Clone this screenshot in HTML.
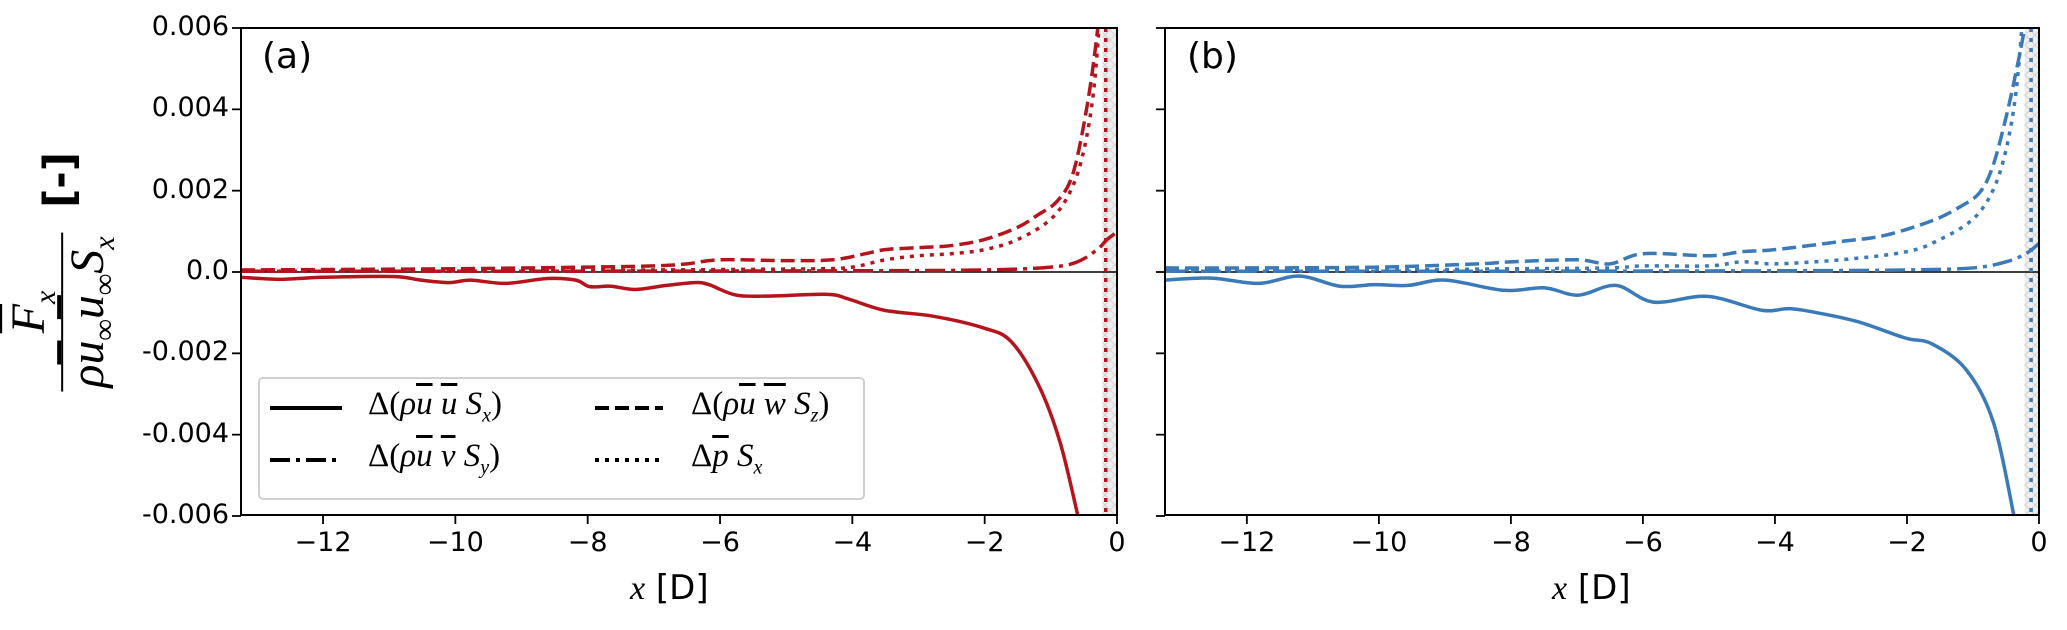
<!DOCTYPE html>
<html><head><meta charset="utf-8">
<style>
html,body{margin:0;padding:0;background:#fff;}
#wrap{position:relative;width:2067px;height:630px;overflow:hidden;font-family:"DejaVu Sans","Liberation Sans",sans-serif;}
.t{position:absolute;white-space:nowrap;color:#000;}
.ytick{font-size:27px;text-align:right;width:140px;}
.xtick{font-size:27px;text-align:center;width:80px;}
.m{font-family:"Liberation Serif",serif;font-style:italic;}
.ov{text-decoration:overline;}
.lg{font-size:33px;font-family:"Liberation Serif",serif;}
</style></head>
<body>
<div id="wrap">
<svg id="svg" width="2067" height="630" style="position:absolute;left:0;top:0">
<defs>
<pattern id="hatch" width="10" height="10" patternUnits="userSpaceOnUse">
<rect width="10" height="10" fill="#efefef"/>
<path d="M0,0L10,10M10,0L0,10" stroke="#d4d4d4" stroke-width="1"/>
</pattern>
<clipPath id="clipA"><rect x="241" y="28" width="876" height="487"/></clipPath>
<clipPath id="clipB"><rect x="1165" y="28" width="874" height="487"/></clipPath>
</defs>
</svg>
<div class="t" style="left:262px;top:36px;font-size:36px">(a)</div>
<div class="t" style="left:1187px;top:36px;font-size:36px">(b)</div>
<div class="t" style="left:630px;top:568px;font-size:34px"><span class="m">x</span> [D]</div>
<div class="t" style="left:1552px;top:568px;font-size:34px"><span class="m">x</span> [D]</div>
<div class="t" style="left:60px;top:312px;transform:translate(-50%,-50%) rotate(-90deg);font-size:48px;">
  <span style="display:inline-flex;flex-direction:column;align-items:center;font-family:'Liberation Serif',serif;font-style:italic;">
    <span style="padding:0 6px 0;line-height:1"><span class="ov">F</span><sub style="font-size:30px">x</sub></span>
    <span style="border-top:2px solid #000;padding:0 4px 0;line-height:1.05">ρ<span class="ov">u</span><sub style="font-size:30px">∞</sub><span class="ov">u</span><sub style="font-size:30px">∞</sub>S<sub style="font-size:30px">x</sub></span>
  </span>
</div>
<div class="t" style="left:59px;top:180px;transform:translate(-50%,-50%) rotate(-90deg);font-size:42px;font-weight:bold">[-]</div>
<div id="legend" style="position:absolute;left:258px;top:377px;width:603px;height:119px;border:2px solid #d0d0d0;border-radius:5px;background:rgba(255,255,255,0.85);"></div>
<div class="t lg" style="left:368px;top:386px">Δ(<i>ρ<span class="ov">u</span> <span class="ov">u</span> S<sub style="font-size:20px">x</sub></i>)</div>
<div class="t lg" style="left:368px;top:438px">Δ(<i>ρ<span class="ov">u</span> <span class="ov">v</span> S<sub style="font-size:20px">y</sub></i>)</div>
<div class="t lg" style="left:691px;top:386px">Δ(<i>ρ<span class="ov">u</span> <span class="ov">w</span> S<sub style="font-size:20px">z</sub></i>)</div>
<div class="t lg" style="left:691px;top:438px">Δ<i><span class="ov">p</span> S<sub style="font-size:20px">x</sub></i></div>
</div>
<script>
// data (x in D, y in 1e-3)
const xTicks=[-12,-10,-8,-6,-4,-2,0];
const xTickLabels=["−12","−10","−8","−6","−4","−2","0"];
const yTicks=[0.006,0.004,0.002,0,-0.002,-0.004,-0.006];
const yTickLabels=["0.006","0.004","0.002","0.0","-0.002","-0.004","-0.006"];
const aSolidX=[-13.24,-12.64,-12,-10.94,-10.52,-10.09,-9.77,-9.24,-8.61,-8.18,-7.97,-7.65,-7.28,-6.81,-6.38,-6.17,-5.75,-5.21,-4.37,-4.05,-3.52,-2.77,-2.03,-1.6,-1.18,-0.86,-0.59,-0.5];
const aSolidY=[-0.13,-0.18,-0.13,-0.11,-0.2,-0.26,-0.2,-0.28,-0.16,-0.2,-0.36,-0.35,-0.43,-0.33,-0.26,-0.31,-0.57,-0.59,-0.55,-0.67,-0.94,-1.09,-1.37,-1.71,-2.8,-4.19,-6.0,-6.6];
const aDashX=[-13.24,-12,-10,-8,-7,-6.5,-6,-5,-4.3,-3.8,-3.5,-3,-2.5,-2,-1.5,-1.2,-0.9,-0.66,-0.44,-0.29,-0.2];
const aDashY=[0.05,0.06,0.08,0.12,0.15,0.2,0.3,0.28,0.3,0.45,0.55,0.6,0.65,0.8,1.1,1.4,1.75,2.45,4.2,6.0,7.5];
const aDotX=[-13.24,-10,-8,-6,-4.5,-4,-3.5,-3,-2.5,-2,-1.5,-1,-0.7,-0.5,-0.35,-0.25];
const aDotY=[0.02,0.03,0.04,0.06,0.08,0.12,0.3,0.4,0.45,0.55,0.8,1.3,2.0,3.0,4.5,6.5];
const aDashDotX=[-13.24,-8,-4,-2,-1,-0.6,-0.3,-0.15,0];
const aDashDotY=[0.02,0.02,0.03,0.05,0.12,0.25,0.55,0.8,0.98];
const aPVertX=-0.17;
const bSolidX=[-13.24,-12.54,-11.82,-11.2,-10.59,-10.07,-9.56,-8.99,-8.11,-7.49,-6.98,-6.41,-5.84,-5.02,-4.2,-3.78,-3.37,-2.75,-2.03,-1.62,-1.1,-0.69,-0.38,-0.3];
const bSolidY=[-0.2,-0.15,-0.28,-0.1,-0.35,-0.31,-0.33,-0.2,-0.45,-0.39,-0.57,-0.33,-0.74,-0.6,-0.94,-0.9,-1.0,-1.22,-1.62,-1.77,-2.41,-3.7,-6.0,-6.8];
const bDashX=[-13.24,-12,-10,-8.5,-8,-7,-6.5,-6,-5,-4.5,-4,-3,-2.34,-1.62,-1.2,-0.9,-0.7,-0.5,-0.35,-0.22,-0.15];
const bDashY=[0.1,0.1,0.12,0.2,0.25,0.3,0.2,0.45,0.4,0.5,0.55,0.75,0.9,1.26,1.6,1.95,2.6,3.8,4.9,6.0,7.0];
const bDotX=[-13.24,-10,-8,-6.5,-6,-5,-4.5,-4,-3,-2,-1.5,-1,-0.7,-0.5,-0.35,-0.25];
const bDotY=[0.05,0.05,0.08,0.1,0.15,0.15,0.25,0.2,0.3,0.5,0.8,1.3,2.0,3.0,4.4,6.2];
const bDashDotX=[-13.24,-8,-4,-2,-1,-0.5,-0.2,0];
const bDashDotY=[0.02,0.02,0.03,0.05,0.1,0.25,0.45,0.7];
const bPVertX=-0.12;

const NS="http://www.w3.org/2000/svg";
const svg=document.getElementById('svg');
const X0=-13.24,X1=0,TOP=28,BOT=515;
function mk(tag,attrs,parent){const e=document.createElementNS(NS,tag);for(const k in attrs)e.setAttribute(k,attrs[k]);(parent||svg).appendChild(e);return e;}
function smooth(pts){let d="M"+pts[0][0]+","+pts[0][1];for(let i=0;i<pts.length-1;i++){const p0=pts[Math.max(0,i-1)],p1=pts[i],p2=pts[i+1],p3=pts[Math.min(pts.length-1,i+2)];
const c1=[p1[0]+(p2[0]-p0[0])/6,p1[1]+(p2[1]-p0[1])/6],c2=[p2[0]-(p3[0]-p1[0])/6,p2[1]-(p3[1]-p1[1])/6];d+="C"+c1+" "+c2+" "+p2;}return d;}
const STY={solid:"",dash:"14,6",dot:"4,6",dashdot:"20,6,4,6"};
function panel(L,R,id,color,series,vx){
  const sx=v=>L+(v-X0)/(X1-X0)*(R-L);
  const sy=v=>272-(v/0.006)*(272-TOP);
  const g=mk('g',{});
  
  
  const sh=mk('rect',{x:sx(-0.22),y:TOP,width:R-sx(-0.22),height:BOT-TOP,fill:'url(#hatch)'},g);
  
  
  const zl=mk('line',{x1:L,x2:R,y1:sy(0),y2:sy(0),stroke:'#000','stroke-width':1.5},g);
  
  
  const cg=mk('g',{'clip-path':'url(#clip'+id.toUpperCase()+')'},g);
  series.forEach(s=>{
    const pts=s.x.map((v,i)=>[sx(v),sy(s.y[i]*0.001)]);
    const p=mk('path',{d:smooth(pts),fill:'none',stroke:color,'stroke-width':3.5,'stroke-dasharray':STY[s.st]},cg);
    
    
  });
  const vl=mk('line',{x1:sx(vx),x2:sx(vx),y1:TOP,y2:BOT,stroke:color,'stroke-width':3.5,'stroke-dasharray':STY.dot},cg);
  
  
  const fr=mk('rect',{x:L,y:TOP,width:R-L,height:BOT-TOP,fill:'none',stroke:'#000','stroke-width':2},g);
  
  
  xTicks.forEach((v,i)=>{
    const tk=mk('line',{x1:sx(v),x2:sx(v),y1:BOT,y2:BOT+9,stroke:'#000','stroke-width':1.8},g);
    
    
    const d=document.createElement('div');d.className='t xtick';d.style.left=(sx(v)-40)+'px';d.style.top='527px';d.textContent=xTickLabels[i];
    
    
    document.getElementById('wrap').appendChild(d);
  });
  yTicks.forEach((v,i)=>{
    const tk=mk('line',{x1:L-9,x2:L,y1:sy(v),y2:sy(v),stroke:'#000','stroke-width':1.8},g);
    
    
    if(id==='a'){const d=document.createElement('div');d.className='t ytick';d.style.left=(L-152)+'px';d.style.top=(sy(v)-17)+'px';d.textContent=yTickLabels[i];
      
      
      document.getElementById('wrap').appendChild(d);}
  });
}
panel(241,1117,'a','#b5141c',[
 {x:aSolidX,y:aSolidY,st:'solid',n:'uu'},{x:aDashX,y:aDashY,st:'dash',n:'uw'},
 {x:aDotX,y:aDotY,st:'dot',n:'p'},{x:aDashDotX,y:aDashDotY,st:'dashdot',n:'uv'}],aPVertX);
panel(1165,2039,'b','#3a7ab8',[
 {x:bSolidX,y:bSolidY,st:'solid',n:'uu'},{x:bDashX,y:bDashY,st:'dash',n:'uw'},
 {x:bDotX,y:bDotY,st:'dot',n:'p'},{x:bDashDotX,y:bDashDotY,st:'dashdot',n:'uv'}],bPVertX);
const lgs=[[270,342,408,'solid'],[270,342,460,'dashdot'],[595,663,408,'dash'],[595,663,460,'dot']];
const ls=document.createElementNS(NS,'svg');ls.setAttribute('width','2067');ls.setAttribute('height','630');ls.style.position='absolute';ls.style.left='0';ls.style.top='0';


lgs.forEach(l=>{const e=mk('line',{x1:l[0],x2:l[1],y1:l[2],y2:l[2],stroke:'#000','stroke-width':4,'stroke-dasharray':STY[l[3]]},ls);
  
  });
document.getElementById('legend').after(ls);
</script>
</body></html>
